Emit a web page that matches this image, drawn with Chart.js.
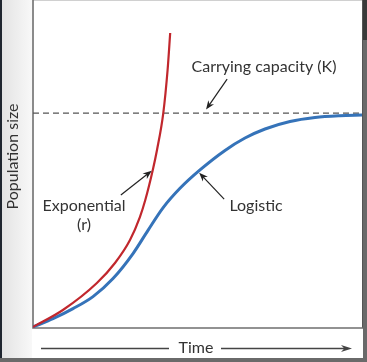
<!DOCTYPE html>
<html>
<head>
<meta charset="utf-8">
<script src="https://cdn.jsdelivr.net/npm/chart.js@4"></script>
<style>
  html, body { margin: 0; padding: 0; background: #fff; }
  canvas { display: block; }
</style>
</head>
<body>
<canvas id="growthChart" width="367" height="362"></canvas>
<script>
// Values (time 0-100, population 0-100)
const expTime = [0, 9.09, 19.42, 24.92, 29.48, 32.49, 34.13, 36.41, 37.69, 39.6, 40.91, 41.7];
const expPop  = [0.31, 5.5, 13.76, 19.88, 26.91, 33.94, 39.14, 48.32, 54.43, 65.74, 78.9, 90.21];

const logTime = [0, 6.08, 12.16, 18.24, 24.32, 30.4, 34.95, 39.51, 44.68, 50.76, 58.36, 64.44, 70.52, 78.12, 85.71, 93.31, 100];
const logPop  = [0.31, 2.87, 5.93, 9.6, 15.11, 22.75, 29.86, 36.74, 42.72, 48.35, 54.31, 58.1, 60.86, 63.15, 64.37, 64.91, 65.11];

const carryingCapacity = 65.7;
const xRange = [0, 100];

const toPoints = (xs, ys) => xs.map((x, i) => ({ x: x, y: ys[i] }));

const FONT = '16px Lato, "Open Sans", sans-serif';
const TEXT = '#333';

// arrow with a small barbed head
function arrow(ctx, x1, y1, x2, y2, len, wid) {
    const a = Math.atan2(y2 - y1, x2 - x1);
    ctx.beginPath();
    ctx.moveTo(x1, y1);
    ctx.lineTo(x2 - Math.cos(a) * len * 0.6, y2 - Math.sin(a) * len * 0.6);
    ctx.stroke();
    ctx.save();
    ctx.translate(x2, y2);
    ctx.rotate(a);
    ctx.beginPath();
    ctx.moveTo(0, 0);
    ctx.lineTo(-len, -wid / 2);
    ctx.lineTo(-len * 0.7, 0);
    ctx.lineTo(-len, wid / 2);
    ctx.closePath();
    ctx.fill();
    ctx.restore();
}

// page frame: grey strip left, dark bands right / bottom
const framePlugin = {
    id: 'frame',
    beforeDraw(chart) {
        const ctx = chart.ctx;
        const w = chart.width, h = chart.height;
        ctx.save();
        ctx.fillStyle = '#fff';
        ctx.fillRect(0, 0, w, h);
        const g = ctx.createLinearGradient(0, 0, 32, 0);
        g.addColorStop(0, '#e2e2e2');
        g.addColorStop(1, '#f8f8f8');
        ctx.fillStyle = g;
        ctx.fillRect(0, 0, 32, h);
        ctx.fillStyle = '#1f2630';
        ctx.fillRect(0, 0, 2, h);
        ctx.fillStyle = '#6a6a6a';
        ctx.fillRect(w - 4, 0, 4, h);
        ctx.fillRect(0, h - 4, w, 4);
        ctx.fillStyle = '#3a3a3a';
        ctx.fillRect(w - 4, 0, 4, 40);
        ctx.restore();
    },
    beforeDatasetsDraw(chart) {
        const ctx = chart.ctx;
        const a = chart.chartArea;
        ctx.save();
        ctx.strokeStyle = '#d0d0d0';
        ctx.lineWidth = 1;
        ctx.beginPath();
        ctx.moveTo(a.left, 0.5);
        ctx.lineTo(a.right, 0.5);
        ctx.stroke();
        ctx.strokeStyle = '#555';
        ctx.beginPath();
        ctx.moveTo(a.right + 0.5, 0);
        ctx.lineTo(a.right + 0.5, a.bottom);
        ctx.stroke();
        ctx.strokeStyle = '#6f6f6f';
        ctx.lineWidth = 1.6;
        ctx.beginPath();
        ctx.moveTo(a.left, 0);
        ctx.lineTo(a.left, a.bottom);
        ctx.lineTo(a.right + 1, a.bottom);
        ctx.stroke();
        ctx.restore();
    },
    afterDraw(chart) {
        const ctx = chart.ctx;
        const x = chart.scales.x, y = chart.scales.y;
        const px = (t, p) => [x.getPixelForValue(t), y.getPixelForValue(p)];
        ctx.save();
        ctx.font = FONT;
        ctx.fillStyle = TEXT;
        ctx.textAlign = 'center';
        ctx.textBaseline = 'middle';

        let [lx, ly] = px(70.2, 79.8);
        ctx.fillText('Carrying capacity (K)', lx, ly);
        [lx, ly] = px(15.5, 37.3);
        ctx.fillText('Exponential', lx, ly);
        [lx, ly] = px(15.5, 31.4);
        ctx.fillText('(r)', lx, ly);
        [lx, ly] = px(67.8, 37.3);
        ctx.fillText('Logistic', lx, ly);

        ctx.strokeStyle = '#222';
        ctx.fillStyle = '#222';
        ctx.lineWidth = 1.2;
        arrow(ctx, ...px(59.0, 76.1), ...px(52.6, 66.8), 9, 7);
        arrow(ctx, ...px(26.7, 40.7), ...px(36.1, 48.1), 9, 7);
        arrow(ctx, ...px(58.1, 39.4), ...px(50.5, 47.5), 9, 7);

        // axis titles
        const a = chart.chartArea;
        ctx.fillStyle = TEXT;
        ctx.fillText('Time', 196, 348);
        ctx.strokeStyle = '#444';
        ctx.fillStyle = '#444';
        ctx.lineWidth = 1.3;
        ctx.beginPath();
        ctx.moveTo(41, 348.5);
        ctx.lineTo(169, 348.5);
        ctx.stroke();
        arrow(ctx, 221, 348.5, 352, 348.5, 11, 7);

        ctx.fillStyle = TEXT;
        ctx.translate(13, (a.top + a.bottom) / 2 - 8);
        ctx.rotate(-Math.PI / 2);
        ctx.fillText('Population size', 0, 0);
        ctx.restore();
    }
};

new Chart(document.getElementById('growthChart'), {
    type: 'line',
    data: {
        datasets: [
            {
                label: 'Exponential (r)',
                data: toPoints(expTime, expPop),
                borderColor: '#c1272d',
                borderWidth: 2.2,
                cubicInterpolationMode: 'monotone',
                order: 1
            },
            {
                label: 'Logistic',
                data: toPoints(logTime, logPop),
                borderColor: '#3573b9',
                borderWidth: 3,
                cubicInterpolationMode: 'monotone',
                order: 2
            },
            {
                label: 'Carrying capacity (K)',
                data: toPoints(xRange, [carryingCapacity, carryingCapacity]),
                borderColor: '#555',
                borderWidth: 1.3,
                borderDash: [6, 4],
                order: 3
            }
        ]
    },
    options: {
        responsive: false,
        animation: false,
        layout: { padding: { left: 33, right: 5, top: 1, bottom: 34 } },
        elements: { point: { radius: 0 } },
        scales: {
            x: { type: 'linear', display: false, min: 0, max: 100 },
            y: { display: false, min: 0, max: 100 }
        },
        plugins: {
            legend: { display: false },
            tooltip: { enabled: false }
        }
    },
    plugins: [framePlugin]
});
</script>
</body>
</html>
